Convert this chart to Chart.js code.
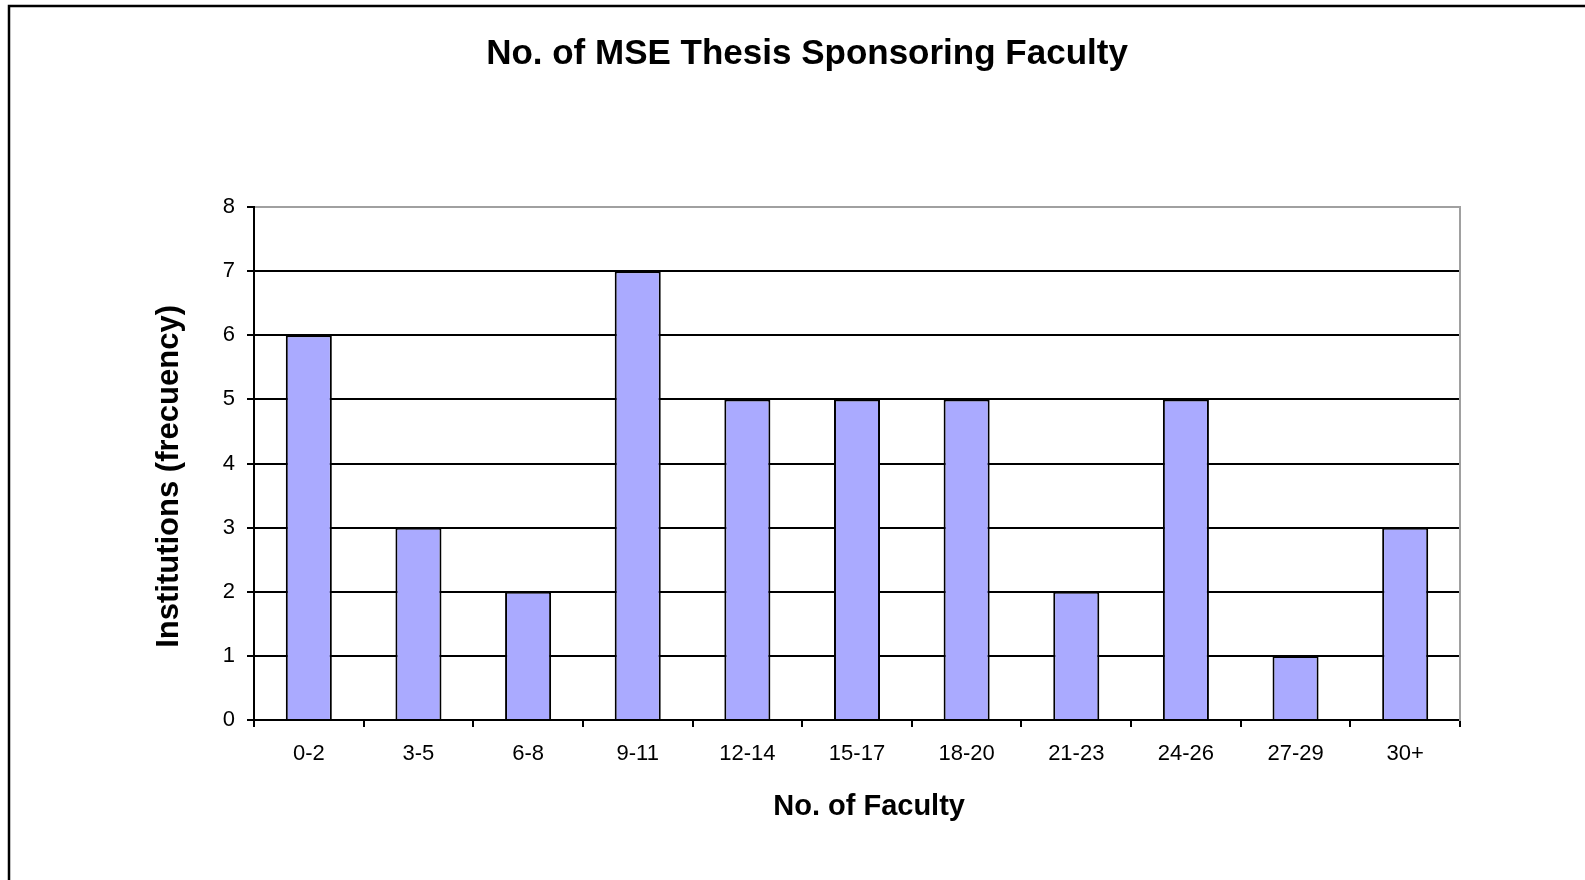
<!DOCTYPE html>
<html>
<head>
<meta charset="utf-8">
<title>No. of MSE Thesis Sponsoring Faculty</title>
<script src="https://cdn.jsdelivr.net/npm/chart.js@4.4.1/dist/chart.umd.min.js"></script>
<style>
  html, body { margin: 0; padding: 0; background: #fff; }
  #wrap { width: 1585px; height: 880px; position: relative; }
</style>
</head>
<body>
<div id="wrap"><canvas id="facultyChart" width="1585" height="880"></canvas></div>
<script>
// data
const facultyRanges = ["0-2", "3-5", "6-8", "9-11", "12-14", "15-17", "18-20", "21-23", "24-26", "27-29", "30+"];
const institutionCounts = [6, 3, 2, 7, 5, 5, 5, 2, 5, 1, 3];
const yTicks = [0, 1, 2, 3, 4, 5, 6, 7, 8];

const FONT = "'Liberation Sans', Arial, sans-serif";

// outer frame (only top and left edges are visible in the picture)
const framePlugin = {
  id: "frame",
  afterDraw(chart) {
    const ctx = chart.ctx;
    ctx.save();
    ctx.strokeStyle = "#000";
    ctx.lineWidth = 2.5;
    ctx.beginPath();
    ctx.moveTo(9, 880);
    ctx.lineTo(9, 6);
    ctx.lineTo(1585, 6);
    ctx.stroke();
    ctx.restore();
  },
};

const ctx = document.getElementById("facultyChart").getContext("2d");

new Chart(ctx, {
  type: "bar",
  data: {
    labels: facultyRanges,
    datasets: [
      {
        label: "Institutions",
        data: institutionCounts,
        backgroundColor: "#AAAAFF",
        borderColor: "#000",
        borderWidth: 2,
        borderSkipped: "bottom",
        categoryPercentage: 1,
        barPercentage: 0.42,
        yAxisID: "y",
      },
    ],
  },
  options: {
    responsive: false,
    animation: false,
    events: [],
    layout: {
      padding: { left: 29, right: 0, top: 0, bottom: 55.6 },
    },
    plugins: {
      legend: { display: false },
      tooltip: { enabled: false },
      title: {
        display: true,
        text: "No. of MSE Thesis Sponsoring Faculty",
        color: "#000",
        font: { family: FONT, size: 35, weight: "bold" },
        padding: { top: 33.5, bottom: 131.5 },
      },
    },
    scales: {
      x: {
        type: "category",
        offset: true,
        grid: {
          offset: true,
          drawOnChartArea: false,
          drawTicks: true,
          tickLength: 7,
          color: "#000",
          lineWidth: 2,
        },
        border: { display: true, color: "#000", width: 2 },
        ticks: {
          color: "#000",
          font: { family: FONT, size: 22 },
          padding: 14,
          autoSkip: false,
          maxRotation: 0,
        },
        title: {
          display: true,
          // leading spaces nudge the title right, as in the original
          text: "   No. of Faculty",
          color: "#000",
          font: { family: FONT, size: 29, weight: "bold" },
          padding: { top: 0, bottom: 0 },
        },
        afterFit(scale) {
          scale.height = 104.4;
        },
      },
      y: {
        position: "left",
        min: yTicks[0],
        max: yTicks[yTicks.length - 1],
        grid: {
          color: (c) => (c.tick && c.tick.value === 8 ? "#a0a0a0" : "#000"),
          tickColor: "#000",
          lineWidth: 2,
          tickLength: 7,
        },
        border: { display: true, color: "#000", width: 2 },
        ticks: {
          stepSize: 1,
          color: "#000",
          font: { family: FONT, size: 22 },
          padding: 12,
        },
        title: {
          display: true,
          // trailing spaces push the rotated title down a little
          text: "Institutions (frecuency)   ",
          color: "#000",
          font: { family: FONT, size: 31, weight: "bold" },
          padding: { top: 121.4, bottom: 0 },
        },
        afterFit(scale) {
          scale.width = 225;
        },
      },
      // right edge of the plot area
      y2: {
        position: "right",
        display: true,
        min: yTicks[0],
        max: yTicks[yTicks.length - 1],
        grid: { drawOnChartArea: false, drawTicks: false },
        border: { display: true, color: "#a0a0a0", width: 2 },
        ticks: { display: false },
        afterFit(scale) {
          scale.width = 125;
        },
      },
    },
  },
  plugins: [framePlugin],
});
</script>
</body>
</html>
